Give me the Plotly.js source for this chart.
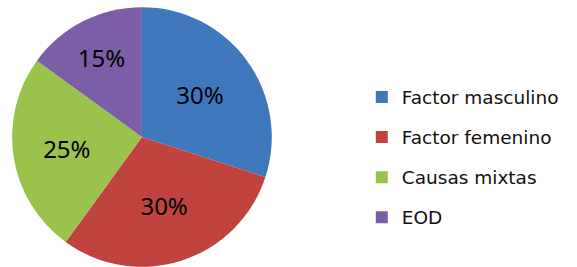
<!DOCTYPE html>
<html>
<head>
<meta charset="utf-8">
<script src="https://cdn.plot.ly/plotly-3.0.1.min.js"></script>
<style>html,body{margin:0;padding:0;background:#fff;}#chart{width:577px;height:267px;}</style>
</head>
<body>
<div id="chart"></div>
<script>
const categories = ["Factor masculino", "Factor femenino", "Causas mixtas", "EOD"];
const values = [30, 30, 25, 15];
const colors = ["#3f77bd", "#c0433f", "#9bc24b", "#7c5ea6"];

const traces = [{
  type: "pie",
  labels: categories,
  values: values,
  sort: false,
  direction: "clockwise",
  rotation: 0,
  marker: {colors: colors, line: {width: 0}},
  textinfo: "percent",
  texttemplate: "%{percent:.0%}",
  textposition: "inside",
  insidetextorientation: "horizontal",
  insidetextfont: {family: "Noto Sans", size: 24, color: "#000"},
  showlegend: false,
  hoverinfo: "label+percent",
  domain: {x: [0.021, 0.471], y: [0.0, 0.974]}
}];
categories.forEach((c, i) => {
  traces.push({
    type: "scatter", mode: "markers", x: [null], y: [null],
    name: c, legendgroup: "g" + i,
    marker: {symbol: "square", size: 12, color: colors[i]},
    showlegend: true, hoverinfo: "skip"
  });
});

const layout = {
  width: 577, height: 267,
  margin: {l: 0, r: 0, t: 0, b: 0},
  paper_bgcolor: "#fff", plot_bgcolor: "#fff",
  xaxis: {visible: false}, yaxis: {visible: false},
  showlegend: true,
  legend: {
    x: 0.627, y: 0.41, xanchor: "left", yanchor: "middle",
    font: {family: "DejaVu Sans", size: 18.5, color: "#111"},
    tracegroupgap: 13, bgcolor: "rgba(0,0,0,0)"
  }
};
Plotly.newPlot("chart", traces, layout, {displayModeBar: false, staticPlot: true});
</script>
</body>
</html>
